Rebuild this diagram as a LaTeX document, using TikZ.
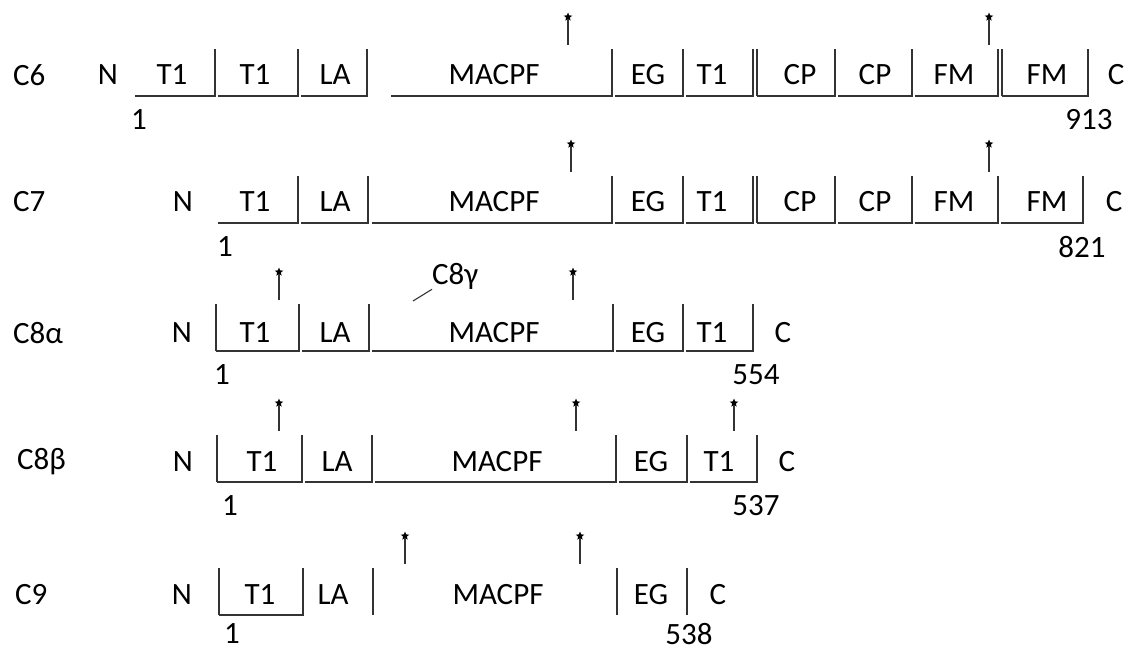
\documentclass[tikz,border=0pt]{standalone}
\usepackage{fontspec}
\setmainfont{Carlito}
\usetikzlibrary{shapes.geometric}
\tikzset{
  ln/.style={line width=1.1pt, black!80},
  lbl/.style={font=\fontsize{31}{36}\selectfont, inner sep=0pt, text=black},
  mk/.style={star, star points=5, star point ratio=2.3, fill=black, draw=none, inner sep=0pt, minimum size=9pt},
}
% underline from x1 to x2 at y, with closing vertical at x2
\newcommand\useg[3]{\draw[ln] (#1,#3) -- (#2,#3) -- (#2,#3-47);}
\newcommand\vbar[2]{\draw[ln] (#1,#2) -- (#1,#2-47);}
% pin with star: x, baseline y, name
\newcommand\pin[3]{\node[mk] (#3) at (#1,#2-79) {}; \draw[ln] (#3.south) -- (#1,#2-51);}
\begin{document}
\begin{tikzpicture}[x=1pt,y=-1pt]
\path[use as bounding box, fill=white] (0,0) rectangle (1134,652);

% ---------------- C6 ----------------
\node[lbl, anchor=west] (c6) at (13,75) {C6};
\node[lbl] (c6n) at (108,75) {N};
\useg{135}{215}{96}
\useg{218}{298}{96}
\useg{301}{367}{96}
\useg{391}{612}{96}
\useg{615}{683}{96}
\useg{686}{753}{96}
\vbar{757}{96}
\useg{757}{835}{96}
\useg{838}{912}{96}
\useg{915}{998}{96}
\vbar{1002}{96}
\useg{1002}{1088}{96}
\node[lbl] (c6a) at (172,75) {T1};
\node[lbl] (c6b) at (255,75) {T1};
\node[lbl] (c6c) at (335,75) {LA};
\node[lbl] (c6d) at (494,75) {MACPF};
\node[lbl] (c6e) at (648,75) {EG};
\node[lbl] (c6f) at (712,75) {T1};
\node[lbl] (c6g) at (800,75) {CP};
\node[lbl] (c6h) at (875,75) {CP};
\node[lbl] (c6i) at (954,75) {FM};
\node[lbl] (c6j) at (1047,75) {FM};
\node[lbl] (c6c2) at (1116,75) {C};
\node[lbl] (c6s) at (139,120) {1};
\node[lbl] (c6e2) at (1089,120) {913};
\pin{568}{96}{c6p1}
\pin{989}{96}{c6p2}

% ---------------- C7 ----------------
\node[lbl, anchor=west] (c7) at (13,202) {C7};
\node[lbl] (c7n) at (183,202) {N};
\useg{218}{298}{223}
\useg{301}{368}{223}
\useg{372}{612}{223}
\useg{615}{683}{223}
\useg{686}{753}{223}
\vbar{757}{223}
\useg{757}{835}{223}
\useg{838}{912}{223}
\useg{915}{998}{223}
\useg{1001}{1083}{223}
\node[lbl] (c7a) at (255,202) {T1};
\node[lbl] (c7b) at (335,202) {LA};
\node[lbl] (c7c) at (494,202) {MACPF};
\node[lbl] (c7d) at (648,202) {EG};
\node[lbl] (c7e) at (712,202) {T1};
\node[lbl] (c7f) at (800,202) {CP};
\node[lbl] (c7g) at (875,202) {CP};
\node[lbl] (c7h) at (954,202) {FM};
\node[lbl] (c7i) at (1047,202) {FM};
\node[lbl] (c7c2) at (1114,202) {C};
\node[lbl] (c7s) at (225,247) {1};
\node[lbl] (c7e2) at (1082,247) {821};
\pin{571}{223}{c7p1}
\pin{989}{223}{c7p2}

% ---------------- C8alpha ----------------
\node[lbl, anchor=west] (c8a) at (13,333) {C8α};
\node[lbl] (c8an) at (182,333) {N};
\vbar{216}{351}
\useg{216}{299}{351}
\useg{302}{369}{351}
\useg{372}{613}{351}
\useg{616}{683}{351}
\useg{686}{753}{351}
\node[lbl] (c8aa) at (255,333) {T1};
\node[lbl] (c8ab) at (335,333) {LA};
\node[lbl] (c8ac) at (494,333) {MACPF};
\node[lbl] (c8ad) at (648,333) {EG};
\node[lbl] (c8ae) at (712,333) {T1};
\node[lbl] (c8ac2) at (783,333) {C};
\node[lbl] (c8as) at (222,375) {1};
\node[lbl] (c8ae2) at (756,375) {554};
\pin{279}{351}{c8ap1}
\pin{573}{351}{c8ap2}
\node[lbl, anchor=west] (c8g) at (432,276) {C8γ};
\coordinate (c8gs) at (413,301);
\draw[ln] (c8gs) -- (c8g.south west);

% ---------------- C8beta ----------------
\node[lbl, anchor=west] (c8b) at (17,462) {C8β};
\node[lbl] (c8bn) at (183,462) {N};
\vbar{217}{482}
\useg{217}{302}{482}
\useg{305}{372}{482}
\useg{375}{616}{482}
\useg{619}{687}{482}
\useg{690}{757}{482}
\node[lbl] (c8ba) at (262,462) {T1};
\node[lbl] (c8bb) at (337,462) {LA};
\node[lbl] (c8bc) at (497,462) {MACPF};
\node[lbl] (c8bd) at (651,462) {EG};
\node[lbl] (c8be) at (719,462) {T1};
\node[lbl] (c8bc2) at (787,462) {C};
\node[lbl] (c8bs) at (230,506) {1};
\node[lbl] (c8be2) at (756,506) {537};
\pin{279}{482}{c8bp1}
\pin{576}{482}{c8bp2}
\pin{734}{482}{c8bp3}

% ---------------- C9 ----------------
\node[lbl, anchor=west] (c9) at (15,595) {C9};
\node[lbl] (c9n) at (182,595) {N};
\vbar{219}{615}
\useg{219}{303}{615}
\vbar{373}{615}
\vbar{617}{615}
\vbar{687}{615}
\node[lbl] (c9a) at (260,595) {T1};
\node[lbl] (c9b) at (333,595) {LA};
\node[lbl] (c9c) at (498,595) {MACPF};
\node[lbl] (c9d) at (651,595) {EG};
\node[lbl] (c9c2) at (718,595) {C};
\node[lbl] (c9s) at (232,634) {1};
\node[lbl] (c9e2) at (689,634) {538};
\pin{405}{615}{c9p1}
\pin{580}{615}{c9p2}
\end{tikzpicture}
\end{document}
